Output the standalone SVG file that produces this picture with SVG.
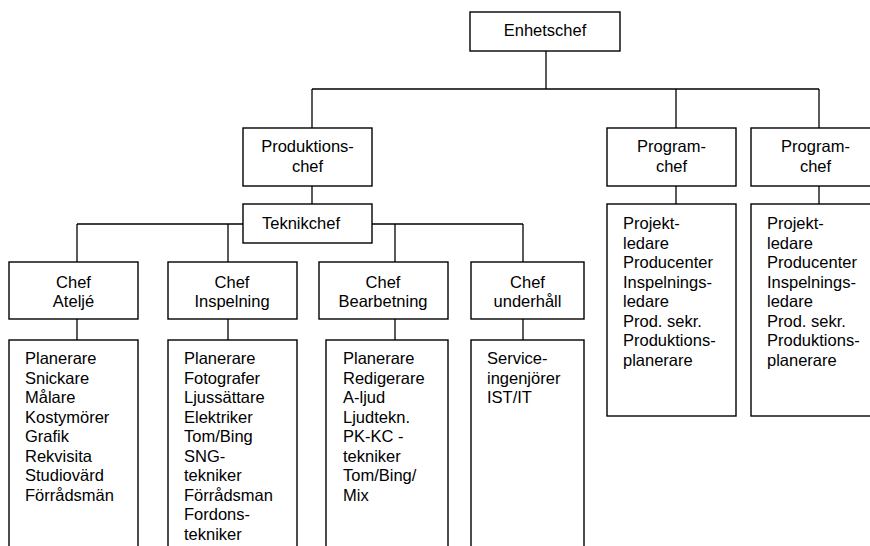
<svg xmlns="http://www.w3.org/2000/svg" width="870" height="546" viewBox="0 0 870 546">
<style>
rect{fill:#fff;stroke:#000;stroke-width:1.4}
.c line{stroke:#000;stroke-width:1.3}
text{font-family:"Liberation Sans",Arial,sans-serif;font-size:16.5px;fill:#000}
.m{text-anchor:middle}
</style>
<rect x="0" y="0" width="870" height="546" style="fill:#fff;stroke:none"/>
<g class="c" id="connectors">
<line x1="546" y1="51" x2="546" y2="89"/>
<line x1="312" y1="89" x2="819" y2="89"/>
<line x1="312" y1="89" x2="312" y2="128"/>
<line x1="676" y1="89" x2="676" y2="128"/>
<line x1="819" y1="89" x2="819" y2="128"/>
<line x1="312" y1="186" x2="312" y2="204"/>
<line x1="676" y1="186" x2="676" y2="204"/>
<line x1="819" y1="186" x2="819" y2="204"/>
<line x1="77" y1="224" x2="243" y2="224"/>
<line x1="372" y1="224" x2="523" y2="224"/>
<line x1="77" y1="224" x2="77" y2="262"/>
<line x1="228" y1="224" x2="228" y2="262"/>
<line x1="395" y1="224" x2="395" y2="262"/>
<line x1="523" y1="224" x2="523" y2="262"/>
<line x1="77" y1="319" x2="77" y2="340"/>
<line x1="228" y1="319" x2="228" y2="340"/>
<line x1="395" y1="319" x2="395" y2="340"/>
<line x1="523" y1="319" x2="523" y2="340"/>
</g>
<g id="enhetschef"><rect x="470" y="12" width="150" height="39"/><text class="m" x="545" y="36">Enhetschef</text></g>
<g id="produktionschef"><rect x="243" y="128" width="129" height="58"/><text class="m" x="307.5" y="152">Produktions-</text><text class="m" x="307.5" y="172">chef</text></g>
<g id="teknikchef"><rect x="243" y="204" width="129" height="39"/><text class="m" x="301" y="229">Teknikchef</text></g>
<g id="programchef1"><rect x="607" y="128" width="129" height="58"/><text class="m" x="671.5" y="152">Program-</text><text class="m" x="671.5" y="172">chef</text></g>
<g id="programchef2"><rect x="751" y="128" width="129" height="58"/><text class="m" x="815.5" y="152">Program-</text><text class="m" x="815.5" y="172">chef</text></g>
<g id="chef-atelje"><rect x="9" y="262" width="129" height="57"/><text class="m" x="73.5" y="288">Chef</text><text class="m" x="73.5" y="307">Ateljé</text></g>
<g id="chef-inspelning"><rect x="168" y="262" width="129" height="57"/><text class="m" x="232" y="288">Chef</text><text class="m" x="232" y="307">Inspelning</text></g>
<g id="chef-bearbetning"><rect x="319" y="262" width="129" height="57"/><text class="m" x="383" y="288">Chef</text><text class="m" x="383" y="307">Bearbetning</text></g>
<g id="chef-underhall"><rect x="471" y="262" width="113" height="57"/><text class="m" x="527.5" y="288">Chef</text><text class="m" x="527.5" y="307">underhåll</text></g>
<g id="lista-atelje"><rect x="9" y="340" width="129" height="220"/>
<text x="25" y="364.3">Planerare</text><text x="25" y="383.8">Snickare</text><text x="25" y="403.3">Målare</text><text x="25" y="422.8">Kostymörer</text><text x="25" y="442.3">Grafik</text><text x="25" y="461.8">Rekvisita</text><text x="25" y="481.3">Studiovärd</text><text x="25" y="500.8">Förrådsmän</text></g>
<g id="lista-inspelning"><rect x="168" y="340" width="129" height="220"/>
<text x="184" y="364.3">Planerare</text><text x="184" y="383.8">Fotografer</text><text x="184" y="403.3">Ljussättare</text><text x="184" y="422.8">Elektriker</text><text x="184" y="442.3">Tom/Bing</text><text x="184" y="461.8">SNG-</text><text x="184" y="481.3">tekniker</text><text x="184" y="500.8">Förrådsman</text><text x="184" y="520.3">Fordons-</text><text x="184" y="539.8">tekniker</text></g>
<g id="lista-bearbetning"><rect x="326" y="340" width="122" height="220"/>
<text x="343" y="364.3">Planerare</text><text x="343" y="383.8">Redigerare</text><text x="343" y="403.3">A-ljud</text><text x="343" y="422.8">Ljudtekn.</text><text x="343" y="442.3">PK-KC -</text><text x="343" y="461.8">tekniker</text><text x="343" y="481.3">Tom/Bing/</text><text x="343" y="500.8">Mix</text></g>
<g id="lista-underhall"><rect x="471" y="340" width="113" height="220"/>
<text x="487" y="364.3">Service-</text><text x="487" y="383.8">ingenjörer</text><text x="487" y="403.3">IST/IT</text></g>
<g id="lista-program1"><rect x="607" y="204" width="129" height="212"/>
<text x="623" y="229">Projekt-</text><text x="623" y="248.5">ledare</text><text x="623" y="268">Producenter</text><text x="623" y="287.5">Inspelnings-</text><text x="623" y="307">ledare</text><text x="623" y="326.5">Prod. sekr.</text><text x="623" y="346">Produktions-</text><text x="623" y="365.5">planerare</text></g>
<g id="lista-program2"><rect x="751" y="204" width="129" height="212"/>
<text x="767" y="229">Projekt-</text><text x="767" y="248.5">ledare</text><text x="767" y="268">Producenter</text><text x="767" y="287.5">Inspelnings-</text><text x="767" y="307">ledare</text><text x="767" y="326.5">Prod. sekr.</text><text x="767" y="346">Produktions-</text><text x="767" y="365.5">planerare</text></g>
</svg>
